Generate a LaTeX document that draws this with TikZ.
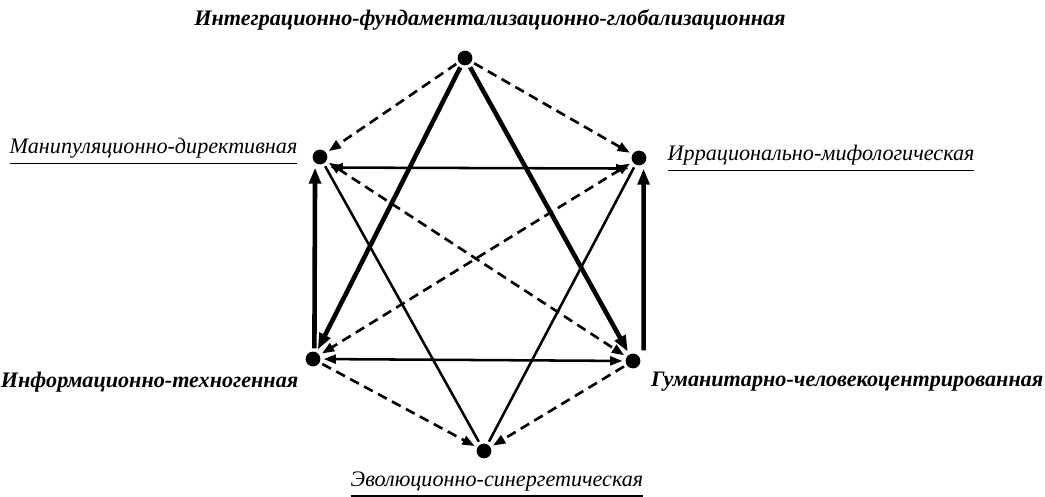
\documentclass[tikz,border=0pt]{standalone}
\usepackage{fontspec}
\setmainfont{Liberation Serif}
\usetikzlibrary{arrows.meta}
\tikzset{
  dot/.style={circle,fill=black,minimum size=4.2pt,inner sep=0pt,outer sep=0.9pt},
  lab/.style={font=\fontsize{6.3}{7.5}\selectfont\itshape,inner sep=0pt},
  blab/.style={lab,font=\fontsize{6.3}{7.5}\selectfont\bfseries\itshape},
  heavy/.style={line width=1.3pt,-{Triangle[length=4.6pt,width=3.3pt]}},
  thinln/.style={line width=0.72pt},
  twoway/.style={thinln,{Triangle[length=3.5pt,width=2.5pt]}-{Triangle[length=3.5pt,width=2.5pt]}},
  dsh/.style={line width=0.75pt,dash pattern=on 2.8pt off 1.7pt,-{Triangle[length=3.5pt,width=2.6pt]}},
  dshboth/.style={dsh,{Triangle[length=3.5pt,width=2.6pt]}-{Triangle[length=3.5pt,width=2.6pt]}},
}
\begin{document}
\begin{tikzpicture}[x=0.01cm,y=-0.01cm]
\useasboundingbox (0,0) rectangle (1045,497);
% ---- vertices ----
\node[dot] (igl) at (465,58) {};
\node[dot] (mdr) at (320,157) {};
\node[dot] (imf) at (639,158) {};
\node[dot] (itg) at (313,359) {};
\node[dot] (gch) at (633,361) {};
\node[dot] (esn) at (484,451) {};
% ---- labels ----
\node[blab] (l-igl) at (490,20) {Интеграционно-фундаментализационно-глобализационная};
\node[lab,anchor=east] (l-mdr) at (298,152) {\underline{Манипуляционно-директивная}};
\node[lab,anchor=west] (l-imf) at (667,159) {\underline{Иррационально-мифологическая}};
\node[blab,anchor=east] (l-itg) at (299,382) {Информационно-техногенная};
\node[blab,anchor=east] (l-gch) at (1044,382) {Гуманитарно-человекоцентрированная};
\node[lab] (l-esn) at (497,485) {\underline{Эволюционно-синергетическая}};
% ---- connectors ----
\draw[dsh] (igl) -- (mdr);
\draw[dsh] (igl) -- (imf);
\draw[heavy] (igl) -- (itg);
\draw[heavy] (igl) -- (gch);
\draw[twoway] ([yshift=-3pt]mdr.east) -- ([yshift=-3pt]imf.west);
\draw[twoway] (itg) -- (gch);
\draw[heavy] ([xshift=0.4pt]itg.north) -- ([xshift=-1.4pt]mdr.south);
\draw[heavy] ([xshift=3pt]gch.north) -- ([xshift=1.3pt]imf.south);
\draw[dshboth] (mdr) -- (gch);
\draw[dshboth] (imf) -- (itg);
\draw[thinln] (mdr) -- (esn);
\draw[thinln] (imf) -- (esn);
\draw[dsh] (itg) -- (esn);
\draw[dsh] (gch) -- (esn);
\end{tikzpicture}
\end{document}
